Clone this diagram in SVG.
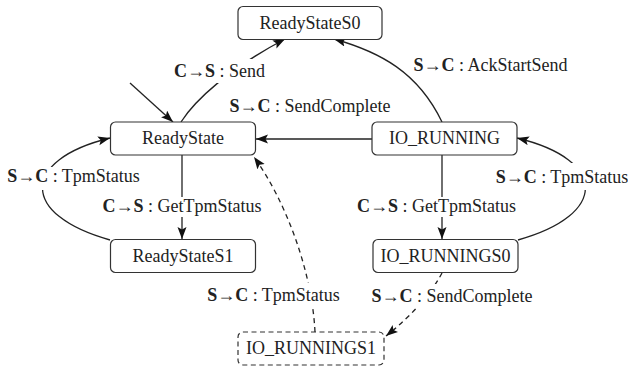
<svg xmlns="http://www.w3.org/2000/svg" width="628" height="370" viewBox="0 0 628 370" font-family="'Liberation Serif', serif">
<defs>
<marker id="ah" markerUnits="userSpaceOnUse" markerWidth="13" markerHeight="10" refX="12" refY="4.5" orient="auto">
<path d="M0,0 L12,4.5 L0,9 L2.5,4.5 z" fill="#111"/>
</marker>
</defs>
<rect width="628" height="370" fill="#fff"/>
<g id="connectors" fill="none" stroke="#222" stroke-width="1.3">
<path d="M130,83 L173,122" marker-end="url(#ah)"/>
<path d="M181,122 C195,100 230,68 285,39" marker-end="url(#ah)"/>
<path d="M442,122 C418,72 380,52 334,39" marker-end="url(#ah)"/>
<path d="M372,139 L256,139" marker-end="url(#ah)"/>
<path d="M182,155 L182,239" marker-end="url(#ah)"/>
<path d="M110,240 C20,215 20,160 110,138" marker-end="url(#ah)"/>
<path d="M442,155 L442,239" marker-end="url(#ah)"/>
<path d="M518,240 C608,215 608,160 517,138" marker-end="url(#ah)"/>
<path d="M442,273 Q425,305 386,336" stroke-dasharray="5 4" marker-end="url(#ah)"/>
<path d="M315,332 C312,270 285,200 254,157" stroke-dasharray="5 4" marker-end="url(#ah)"/>
</g>
<g id="labels">
<rect fill="#fff" x="172" y="59" width="95" height="24"/>
<text style="font-family:'Liberation Serif',serif;font-size:18px" fill="#222" text-anchor="middle" x="219.5" y="77"><tspan font-weight="bold">C</tspan>→<tspan font-weight="bold">S</tspan> : Send</text>
<text style="font-family:'Liberation Serif',serif;font-size:18px" fill="#222" text-anchor="middle" x="490.5" y="71"><tspan font-weight="bold">S</tspan>→<tspan font-weight="bold">C</tspan> : AckStartSend</text>
<text style="font-family:'Liberation Serif',serif;font-size:18px" fill="#222" text-anchor="middle" x="310" y="112"><tspan font-weight="bold">S</tspan>→<tspan font-weight="bold">C</tspan> : SendComplete</text>
<rect fill="#fff" x="6" y="167" width="135" height="23"/>
<text style="font-family:'Liberation Serif',serif;font-size:18px" fill="#222" text-anchor="middle" x="73.5" y="182"><tspan font-weight="bold">S</tspan>→<tspan font-weight="bold">C</tspan> : TpmStatus</text>
<rect fill="#fff" x="101" y="197" width="163" height="20"/>
<text style="font-family:'Liberation Serif',serif;font-size:18px" fill="#222" text-anchor="middle" x="182" y="212"><tspan font-weight="bold">C</tspan>→<tspan font-weight="bold">S</tspan> : GetTpmStatus</text>
<rect fill="#fff" x="355" y="197" width="163" height="20"/>
<text style="font-family:'Liberation Serif',serif;font-size:18px" fill="#222" text-anchor="middle" x="436.5" y="212"><tspan font-weight="bold">C</tspan>→<tspan font-weight="bold">S</tspan> : GetTpmStatus</text>
<rect fill="#fff" x="495" y="163" width="133" height="27"/>
<text style="font-family:'Liberation Serif',serif;font-size:18px" fill="#222" text-anchor="middle" x="562" y="183"><tspan font-weight="bold">S</tspan>→<tspan font-weight="bold">C</tspan> : TpmStatus</text>
<rect fill="#fff" x="207" y="283" width="133" height="25"/>
<text style="font-family:'Liberation Serif',serif;font-size:18px" fill="#222" text-anchor="middle" x="273.5" y="301"><tspan font-weight="bold">S</tspan>→<tspan font-weight="bold">C</tspan> : TpmStatus</text>
<rect fill="#fff" x="367" y="284" width="170" height="24"/>
<text style="font-family:'Liberation Serif',serif;font-size:18px" fill="#222" text-anchor="middle" x="452" y="302"><tspan font-weight="bold">S</tspan>→<tspan font-weight="bold">C</tspan> : SendComplete</text>
</g>
<g id="ReadyStateS0"><rect fill="#fff" stroke="#333" stroke-width="1.2" x="238" y="6.5" width="144" height="33" rx="5"/><text style="font-family:'Liberation Serif',serif;font-size:18px" fill="#222" text-anchor="middle" x="310" y="28.5">ReadyStateS0</text></g>
<g id="ReadyState"><rect fill="#fff" stroke="#333" stroke-width="1.2" x="110.5" y="122" width="145" height="33" rx="5"/><text style="font-family:'Liberation Serif',serif;font-size:18px" fill="#222" text-anchor="middle" x="183" y="144">ReadyState</text></g>
<g id="IO_RUNNING"><rect fill="#fff" stroke="#333" stroke-width="1.2" x="372" y="122" width="145" height="33" rx="5"/><text style="font-family:'Liberation Serif',serif;font-size:18px" fill="#222" text-anchor="middle" x="444.5" y="144">IO_RUNNING</text></g>
<g id="ReadyStateS1"><rect fill="#fff" stroke="#333" stroke-width="1.2" x="110.5" y="239.5" width="145" height="33" rx="5"/><text style="font-family:'Liberation Serif',serif;font-size:18px" fill="#222" text-anchor="middle" x="183" y="261.5">ReadyStateS1</text></g>
<g id="IO_RUNNINGS0"><rect fill="#fff" stroke="#333" stroke-width="1.2" x="373" y="239.5" width="145" height="33" rx="5"/><text style="font-family:'Liberation Serif',serif;font-size:18px" fill="#222" text-anchor="middle" x="445.5" y="261.5">IO_RUNNINGS0</text></g>
<g id="IO_RUNNINGS1"><rect fill="#fff" stroke="#333" stroke-width="1.2" stroke-dasharray="5 3.5" x="238" y="332" width="146" height="33" rx="5"/><text style="font-family:'Liberation Serif',serif;font-size:18px" fill="#222" text-anchor="middle" x="311" y="354">IO_RUNNINGS1</text></g>
</svg>
